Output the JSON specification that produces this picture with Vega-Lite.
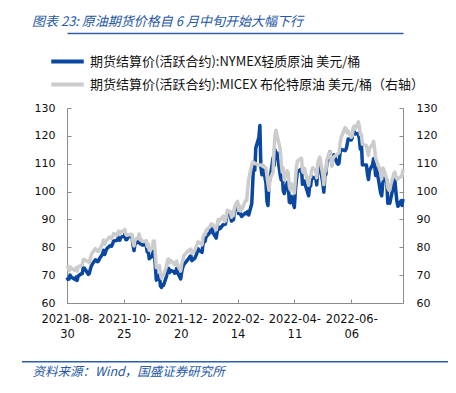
{
  "$schema": "https://vega.github.io/schema/vega-lite/v6.json",
  "width": 336,
  "height": 195,
  "autosize": {"type": "none"},
  "padding": {"left": 67, "top": 108, "right": 53, "bottom": 90},
  "background": "white",
  "config": {"view": {"stroke": null}, "font": "DejaVu Sans"},
  "title": {
    "text": "图表 23: 原油期货价格自 6 月中旬开始大幅下行",
    "anchor": "start", "frame": "group", "dx": -35, "offset": -2, "baseline": "middle",
    "font": "Noto Sans CJK SC", "fontSize": 13, "fontStyle": "italic", "fontWeight": "normal", "color": "#2457a5"
  },
  "data": {"values": [
    {"d":"2021-08-30","a":69.2,"b":73.4},{"d":"2021-08-31","a":68.5,"b":73.0},{"d":"2021-09-01","a":68.6,"b":71.6},{"d":"2021-09-02","a":70.0,"b":73.0},{"d":"2021-09-03","a":69.3,"b":72.6},
    {"d":"2021-09-07","a":68.4,"b":71.7},{"d":"2021-09-08","a":69.3,"b":72.6},{"d":"2021-09-09","a":68.1,"b":71.5},{"d":"2021-09-10","a":69.7,"b":72.9},
    {"d":"2021-09-13","a":70.5,"b":73.5},{"d":"2021-09-14","a":70.5,"b":73.6},{"d":"2021-09-15","a":72.6,"b":75.5},{"d":"2021-09-16","a":72.6,"b":75.7},{"d":"2021-09-17","a":72.0,"b":75.3},
    {"d":"2021-09-20","a":70.3,"b":74.9},{"d":"2021-09-21","a":70.6,"b":74.4},{"d":"2021-09-22","a":72.2,"b":76.2},{"d":"2021-09-23","a":73.3,"b":77.3},{"d":"2021-09-24","a":74.0,"b":78.1},
    {"d":"2021-09-27","a":75.5,"b":79.5},{"d":"2021-09-28","a":75.3,"b":79.1},{"d":"2021-09-29","a":74.8,"b":78.6},{"d":"2021-09-30","a":75.0,"b":78.5},{"d":"2021-10-01","a":75.9,"b":79.3},
    {"d":"2021-10-04","a":77.6,"b":81.3},{"d":"2021-10-05","a":78.9,"b":82.6},{"d":"2021-10-06","a":77.4,"b":81.1},{"d":"2021-10-07","a":78.3,"b":82.0},{"d":"2021-10-08","a":79.4,"b":82.4},
    {"d":"2021-10-11","a":80.5,"b":83.7},{"d":"2021-10-12","a":80.6,"b":83.4},{"d":"2021-10-13","a":80.4,"b":83.2},{"d":"2021-10-14","a":81.3,"b":84.0},{"d":"2021-10-15","a":82.3,"b":84.9},
    {"d":"2021-10-18","a":82.4,"b":84.3},{"d":"2021-10-19","a":83.0,"b":85.1},{"d":"2021-10-20","a":83.9,"b":85.8},{"d":"2021-10-21","a":82.5,"b":84.6},{"d":"2021-10-22","a":83.8,"b":85.5},
    {"d":"2021-10-25","a":83.8,"b":86.0},{"d":"2021-10-26","a":84.7,"b":86.4},{"d":"2021-10-27","a":82.7,"b":84.6},{"d":"2021-10-28","a":82.8,"b":84.3},{"d":"2021-10-29","a":83.6,"b":84.4},
    {"d":"2021-11-01","a":84.1,"b":84.7},{"d":"2021-11-02","a":83.9,"b":84.7},{"d":"2021-11-03","a":80.9,"b":82.0},{"d":"2021-11-04","a":78.8,"b":80.5},{"d":"2021-11-05","a":81.3,"b":82.7},
    {"d":"2021-11-08","a":81.9,"b":83.4},{"d":"2021-11-09","a":84.2,"b":84.8},{"d":"2021-11-10","a":81.3,"b":82.6},{"d":"2021-11-11","a":81.6,"b":82.9},{"d":"2021-11-12","a":80.8,"b":82.2},
    {"d":"2021-11-15","a":80.9,"b":82.1},{"d":"2021-11-16","a":80.8,"b":82.4},{"d":"2021-11-17","a":78.4,"b":80.3},{"d":"2021-11-18","a":79.0,"b":81.2},{"d":"2021-11-19","a":75.9,"b":78.9},
    {"d":"2021-11-22","a":76.8,"b":79.7},{"d":"2021-11-23","a":78.5,"b":82.3},{"d":"2021-11-24","a":78.4,"b":82.3},{"d":"2021-11-26","a":68.2,"b":72.7},
    {"d":"2021-11-29","a":70.0,"b":73.4},{"d":"2021-11-30","a":66.2,"b":70.6},{"d":"2021-12-01","a":65.6,"b":68.9},{"d":"2021-12-02","a":66.5,"b":69.7},{"d":"2021-12-03","a":66.3,"b":69.9},
    {"d":"2021-12-06","a":69.5,"b":73.1},{"d":"2021-12-07","a":72.1,"b":75.4},{"d":"2021-12-08","a":72.4,"b":75.8},{"d":"2021-12-09","a":70.9,"b":74.4},{"d":"2021-12-10","a":71.7,"b":75.2},
    {"d":"2021-12-13","a":71.3,"b":74.4},{"d":"2021-12-14","a":70.7,"b":73.7},{"d":"2021-12-15","a":70.9,"b":73.9},{"d":"2021-12-16","a":72.4,"b":75.0},{"d":"2021-12-17","a":70.9,"b":73.5},
    {"d":"2021-12-20","a":68.6,"b":71.5},{"d":"2021-12-21","a":71.1,"b":74.0},{"d":"2021-12-22","a":72.8,"b":75.3},{"d":"2021-12-23","a":73.8,"b":76.9},
    {"d":"2021-12-27","a":75.6,"b":78.6},{"d":"2021-12-28","a":76.0,"b":78.9},{"d":"2021-12-29","a":76.6,"b":79.2},{"d":"2021-12-30","a":77.0,"b":79.3},{"d":"2021-12-31","a":75.2,"b":77.8},
    {"d":"2022-01-03","a":76.1,"b":79.0},{"d":"2022-01-04","a":77.0,"b":80.0},{"d":"2022-01-05","a":77.9,"b":80.8},{"d":"2022-01-06","a":79.5,"b":82.0},{"d":"2022-01-07","a":78.9,"b":81.8},
    {"d":"2022-01-10","a":78.2,"b":80.9},{"d":"2022-01-11","a":81.2,"b":83.7},{"d":"2022-01-12","a":82.6,"b":84.7},{"d":"2022-01-13","a":82.1,"b":84.5},{"d":"2022-01-14","a":83.8,"b":86.1},
    {"d":"2022-01-18","a":85.4,"b":87.5},{"d":"2022-01-19","a":87.0,"b":88.4},{"d":"2022-01-20","a":86.9,"b":88.4},{"d":"2022-01-21","a":85.1,"b":87.9},
    {"d":"2022-01-24","a":83.3,"b":86.3},{"d":"2022-01-25","a":85.6,"b":88.2},{"d":"2022-01-26","a":87.4,"b":90.0},{"d":"2022-01-27","a":86.6,"b":89.3},{"d":"2022-01-28","a":86.8,"b":90.0},
    {"d":"2022-01-31","a":88.2,"b":91.2},{"d":"2022-02-01","a":88.2,"b":89.2},{"d":"2022-02-02","a":88.3,"b":89.5},{"d":"2022-02-03","a":90.3,"b":91.1},{"d":"2022-02-04","a":92.3,"b":93.3},
    {"d":"2022-02-07","a":91.3,"b":92.7},{"d":"2022-02-08","a":89.4,"b":90.8},{"d":"2022-02-09","a":89.7,"b":91.6},{"d":"2022-02-10","a":89.9,"b":91.4},{"d":"2022-02-11","a":93.1,"b":94.4},
    {"d":"2022-02-14","a":95.5,"b":96.5},{"d":"2022-02-15","a":92.1,"b":93.3},{"d":"2022-02-16","a":93.7,"b":94.8},{"d":"2022-02-17","a":91.8,"b":93.0},{"d":"2022-02-18","a":91.1,"b":93.5},
    {"d":"2022-02-22","a":92.4,"b":96.8},{"d":"2022-02-23","a":92.1,"b":96.8},{"d":"2022-02-24","a":92.8,"b":101.0},{"d":"2022-02-25","a":91.6,"b":104.5},
    {"d":"2022-02-28","a":95.7,"b":109.5},{"d":"2022-03-01","a":103.4,"b":110.5},{"d":"2022-03-02","a":110.6,"b":110.5},{"d":"2022-03-03","a":107.7,"b":110.0},{"d":"2022-03-04","a":115.7,"b":110.0},
    {"d":"2022-03-07","a":119.4,"b":109.5},{"d":"2022-03-08","a":123.7,"b":109.5},{"d":"2022-03-09","a":108.7,"b":109.5},{"d":"2022-03-10","a":106.0,"b":109.5},{"d":"2022-03-11","a":109.3,"b":109.0},
    {"d":"2022-03-14","a":103.0,"b":108.5},{"d":"2022-03-15","a":96.4,"b":105.5},{"d":"2022-03-16","a":95.0,"b":103.0},{"d":"2022-03-17","a":103.0,"b":100.5},{"d":"2022-03-18","a":104.7,"b":104.5},
    {"d":"2022-03-21","a":112.1,"b":107.0},{"d":"2022-03-22","a":109.3,"b":115.5},{"d":"2022-03-23","a":114.9,"b":120.5},{"d":"2022-03-24","a":112.3,"b":122.0},{"d":"2022-03-25","a":113.9,"b":120.0},
    {"d":"2022-03-28","a":106.0,"b":115.5},{"d":"2022-03-29","a":104.2,"b":110.5},{"d":"2022-03-30","a":107.8,"b":107.0},{"d":"2022-03-31","a":100.3,"b":108.5},{"d":"2022-04-01","a":99.3,"b":104.2},
    {"d":"2022-04-04","a":103.3,"b":107.5},{"d":"2022-04-05","a":102.0,"b":106.6},{"d":"2022-04-06","a":96.2,"b":102.0},{"d":"2022-04-07","a":96.0,"b":100.6},{"d":"2022-04-08","a":98.3,"b":102.8},
    {"d":"2022-04-11","a":94.3,"b":99.5},{"d":"2022-04-12","a":100.6,"b":104.6},{"d":"2022-04-13","a":104.3,"b":108.8},{"d":"2022-04-14","a":107.0,"b":111.0},
    {"d":"2022-04-18","a":108.2,"b":112.0},{"d":"2022-04-19","a":102.6,"b":107.3},{"d":"2022-04-20","a":102.8,"b":106.8},{"d":"2022-04-21","a":103.8,"b":108.3},{"d":"2022-04-22","a":102.1,"b":106.6},
    {"d":"2022-04-25","a":98.5,"b":102.3},{"d":"2022-04-26","a":101.7,"b":105.0},{"d":"2022-04-27","a":102.0,"b":105.3},{"d":"2022-04-28","a":105.4,"b":107.6},{"d":"2022-04-29","a":104.7,"b":108.5},
    {"d":"2022-05-02","a":105.2,"b":107.6},{"d":"2022-05-03","a":102.4,"b":105.0},{"d":"2022-05-04","a":107.8,"b":110.1},{"d":"2022-05-05","a":108.3,"b":111.5},{"d":"2022-05-06","a":109.8,"b":112.4},
    {"d":"2022-05-09","a":103.1,"b":106.0},{"d":"2022-05-10","a":99.8,"b":102.5},{"d":"2022-05-11","a":105.7,"b":107.5},{"d":"2022-05-12","a":106.1,"b":107.5},{"d":"2022-05-13","a":110.5,"b":111.5},
    {"d":"2022-05-16","a":114.2,"b":114.2},{"d":"2022-05-17","a":112.4,"b":112.0},{"d":"2022-05-18","a":109.6,"b":109.1},{"d":"2022-05-19","a":112.2,"b":112.0},{"d":"2022-05-20","a":113.2,"b":112.5},
    {"d":"2022-05-23","a":110.3,"b":113.4},{"d":"2022-05-24","a":109.8,"b":113.6},{"d":"2022-05-25","a":110.3,"b":114.0},{"d":"2022-05-26","a":114.1,"b":117.4},{"d":"2022-05-27","a":115.1,"b":119.4},
    {"d":"2022-05-31","a":114.7,"b":123.0},{"d":"2022-06-01","a":115.3,"b":122.5},{"d":"2022-06-02","a":116.9,"b":121.0},{"d":"2022-06-03","a":118.9,"b":121.8},
    {"d":"2022-06-06","a":118.5,"b":119.5},{"d":"2022-06-07","a":119.4,"b":120.0},{"d":"2022-06-08","a":122.1,"b":123.0},{"d":"2022-06-09","a":121.5,"b":123.5},{"d":"2022-06-10","a":120.7,"b":122.5},
    {"d":"2022-06-13","a":120.9,"b":125.0},{"d":"2022-06-14","a":118.9,"b":123.5},{"d":"2022-06-15","a":115.3,"b":120.5},{"d":"2022-06-16","a":117.6,"b":120.5},{"d":"2022-06-17","a":109.6,"b":117.0},
    {"d":"2022-06-21","a":109.5,"b":116.5},{"d":"2022-06-22","a":106.2,"b":114.5},{"d":"2022-06-23","a":104.3,"b":113.0},{"d":"2022-06-24","a":107.6,"b":115.5},
    {"d":"2022-06-27","a":109.6,"b":117.0},{"d":"2022-06-28","a":111.8,"b":118.0},{"d":"2022-06-29","a":109.8,"b":115.5},{"d":"2022-06-30","a":105.8,"b":112.0},{"d":"2022-07-01","a":108.4,"b":111.0},
    {"d":"2022-07-05","a":99.5,"b":107.0},{"d":"2022-07-06","a":98.5,"b":104.5},{"d":"2022-07-07","a":102.7,"b":108.5},{"d":"2022-07-08","a":104.8,"b":108.0},
    {"d":"2022-07-11","a":104.1,"b":104.5},{"d":"2022-07-12","a":95.8,"b":101.5},{"d":"2022-07-13","a":96.3,"b":100.5},{"d":"2022-07-14","a":95.8,"b":100.5},{"d":"2022-07-15","a":97.6,"b":102.5},
    {"d":"2022-07-18","a":102.6,"b":106.5},{"d":"2022-07-19","a":104.2,"b":107.0},{"d":"2022-07-20","a":99.9,"b":105.5},{"d":"2022-07-21","a":96.4,"b":104.5},{"d":"2022-07-22","a":94.7,"b":104.5},
    {"d":"2022-07-25","a":96.7,"b":105.5},{"d":"2022-07-26","a":95.0,"b":105.5},{"d":"2022-07-27","a":97.3,"b":108.0}
  ]},
  "layer": [
    {
      "mark": {"type": "line", "strokeWidth": 3.5, "strokeJoin": "round"},
      "encoding": {
        "x": {
          "field": "d", "type": "temporal",
          "scale": {"type": "utc", "nice": false, "domain": [{"year": 2021, "month": 8, "date": 30, "utc": true}, {"year": 2022, "month": 7, "date": 27, "utc": true}]},
          "axis": {
            "values": [
              {"year": 2021, "month": 8, "date": 30, "utc": true},
              {"year": 2021, "month": 10, "date": 25, "utc": true},
              {"year": 2021, "month": 12, "date": 20, "utc": true},
              {"year": 2022, "month": 2, "date": 14, "utc": true},
              {"year": 2022, "month": 4, "date": 11, "utc": true},
              {"year": 2022, "month": 6, "date": 6, "utc": true}
            ],
            "labelExpr": "[utcFormat(datum.value, '%Y-%m-'), utcFormat(datum.value, '%d')]",
            "labelAlign": "center", "labelFontSize": 11.5, "labelLineHeight": 15, "labelColor": "#111",
            "labelFlush": false, "labelOverlap": false, "labelPadding": 14,
            "tickSize": -4, "tickColor": "#8c8c8c", "domainColor": "#8c8c8c", "grid": false,
            "title": "资料来源：Wind，国盛证券研究所", "titleAnchor": "start", "titleX": -35, "titleY": 68,
            "titleAlign": "left", "titleBaseline": "middle", "titleFont": "Noto Sans CJK SC", "titleFontSize": 12.5,
            "titleFontStyle": "italic", "titleFontWeight": "normal", "titleColor": "#2457a5"
          }
        },
        "y": {
          "field": "a", "type": "quantitative",
          "scale": {"domain": [60, 130], "nice": false, "zero": false},
          "axis": {
            "values": [60, 70, 80, 90, 100, 110, 120, 130], "title": null, "grid": false,
            "labelFontSize": 11, "labelColor": "#111", "labelPadding": 16,
            "tickSize": -4, "tickColor": "#8c8c8c", "domainColor": "#8c8c8c"
          }
        },
        "color": {
          "datum": "期货结算价(活跃合约):NYMEX轻质原油 美元/桶",
          "scale": {
            "domain": ["期货结算价(活跃合约):NYMEX轻质原油 美元/桶", "期货结算价(活跃合约):MICEX 布伦特原油 美元/桶（右轴）"],
            "range": ["#0a47a0", "#cccccc"]
          },
          "legend": {
            "orient": "none", "legendX": -14, "legendY": -61, "title": null,
            "symbolType": "M-1.3,0H1.3", "symbolSize": 625, "symbolStrokeWidth": 4,
            "labelFont": "Noto Sans CJK SC", "labelFontSize": 13, "labelColor": "#111", "labelOffset": 8,
            "rowPadding": 0, "padding": 0, "labelLimit": 0
          }
        }
      }
    },
    {
      "mark": {"type": "line", "strokeWidth": 3.5, "strokeJoin": "round"},
      "encoding": {
        "x": {
          "field": "d", "type": "temporal",
          "axis": {
            "orient": "top", "offset": 75, "labels": false, "ticks": false, "grid": false, "title": null,
            "domainColor": "#2f5da8", "domainWidth": 1.5
          }
        },
        "y": {
          "field": "b", "type": "quantitative",
          "scale": {"domain": [60, 130], "nice": false, "zero": false},
          "axis": {
            "orient": "right", "values": [60, 70, 80, 90, 100, 110, 120, 130], "title": null, "grid": false,
            "labelFontSize": 11, "labelColor": "#111", "labelPadding": 17,
            "tickSize": -4, "tickColor": "#8c8c8c", "domainColor": "#8c8c8c"
          }
        },
        "color": {"datum": "期货结算价(活跃合约):MICEX 布伦特原油 美元/桶（右轴）"}
      }
    },
    {
      "data": {"values": [{"k": "bottom"}]},
      "mark": {"type": "rect", "color": "#2f5da8", "clip": false},
      "encoding": {"x": {"value": -45}, "x2": {"value": 381}, "y": {"value": 253}, "y2": {"value": 254.5}}
    }
  ],
  "resolve": {"scale": {"y": "independent"}, "axis": {"x": "independent"}}
}
